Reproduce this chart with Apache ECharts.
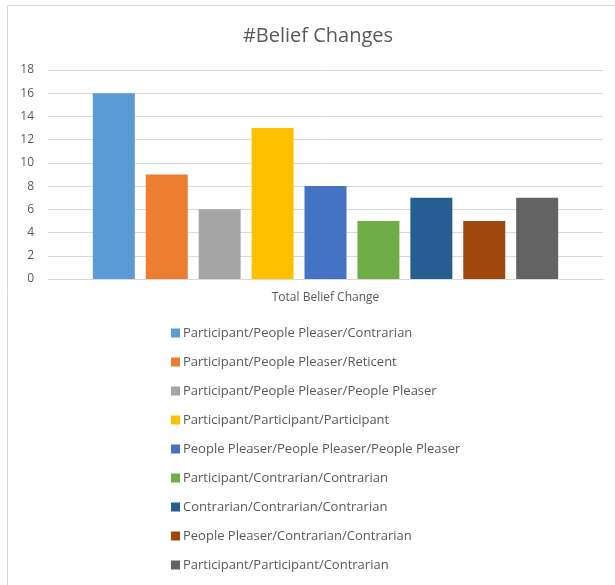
<!DOCTYPE html>
<html>
<head>
<meta charset="utf-8">
<script src="https://cdn.jsdelivr.net/npm/echarts@6/dist/echarts.min.js"></script>
<style>
  html, body { margin: 0; padding: 0; background: #fff; }
  #chart { width: 615px; height: 585px; }
</style>
</head>
<body>
<div id="chart"></div>
<script>
  // 类目
  const categories = ['Total Belief Change']
  // 系列名
  const seriesNames = [
    'Participant/People Pleaser/Contrarian',
    'Participant/People Pleaser/Reticent',
    'Participant/People Pleaser/People Pleaser',
    'Participant/Participant/Participant',
    'People Pleaser/People Pleaser/People Pleaser',
    'Participant/Contrarian/Contrarian',
    'Contrarian/Contrarian/Contrarian',
    'People Pleaser/Contrarian/Contrarian',
    'Participant/Participant/Contrarian'
  ]
  // 数值
  const seriesValues = [16, 9, 6, 13, 8, 5, 7, 5, 7]
  const colors = ['#5B9BD5', '#ED7D31', '#A5A5A5', '#FFC000', '#4472C4', '#70AD47', '#255E91', '#9E480E', '#636363']
  const yTicks = { min: 0, max: 18, interval: 2 }

  const textColor = '#595959'
  const fontFamily = '"Open Sans", "Liberation Sans", sans-serif'

  const chart = echarts.init(document.getElementById('chart'))

  const seriesArr = seriesNames.map((name, i) => ({
    name: name,
    type: 'bar',
    data: [seriesValues[i]],
    barWidth: 42,
    barGap: '26%',
    itemStyle: { color: colors[i] }
  }))

  chart.setOption({
    color: colors,
    animation: false,
    textStyle: { fontFamily: fontFamily },
    graphic: [{
      type: 'rect',
      shape: { x: 7.5, y: 5.5, width: 640, height: 620 },
      style: { fill: 'none', stroke: '#d9d9d9', lineWidth: 1 },
      silent: true
    }],
    title: {
      text: '#Belief Changes',
      left: 313,
      textAlign: 'center',
      top: 21,
      textStyle: { color: textColor, fontSize: 20, fontWeight: 'normal', fontFamily: fontFamily }
    },
    legend: {
      orient: 'vertical',
      left: 166,
      top: 321,
      itemWidth: 9,
      itemHeight: 9,
      itemGap: 15,
      icon: 'rect',
      data: seriesNames,
      textStyle: { color: textColor, fontSize: 13, lineHeight: 14, fontFamily: fontFamily, padding: [0, 0, 0, -2] }
    },
    grid: {
      left: 48,
      right: 12,
      top: 70,
      bottom: 306,
      containLabel: false
    },
    xAxis: {
      type: 'category',
      data: categories,
      axisLine: { lineStyle: { color: '#d9d9d9' } },
      axisTick: { show: false },
      axisLabel: { color: textColor, fontSize: 12, margin: 13 },
      barCategoryGap: '16%'
    },
    yAxis: {
      type: 'value',
      min: yTicks.min,
      max: yTicks.max,
      interval: yTicks.interval,
      axisLine: { show: false },
      axisTick: { show: false },
      axisLabel: { color: textColor, fontSize: 12, margin: 14 },
      splitLine: { lineStyle: { color: '#d9d9d9' } }
    },
    series: seriesArr
  })
</script>
</body>
</html>
